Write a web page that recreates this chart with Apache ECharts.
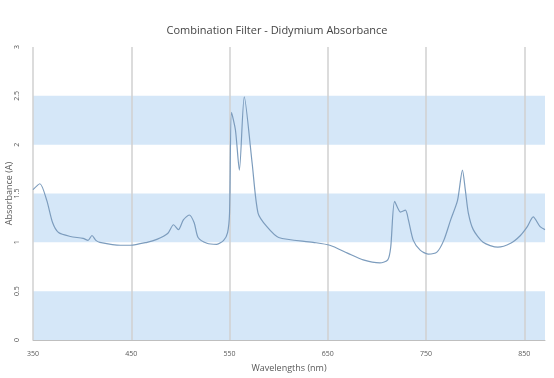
<!DOCTYPE html>
<html>
<head>
<meta charset="utf-8">
<script src="https://cdn.jsdelivr.net/npm/echarts@6/dist/echarts.min.js"></script>
<style>
  html, body { margin: 0; padding: 0; background: #fff; }
  #chart { width: 554px; height: 378px; }
</style>
</head>
<body>
<div id="chart"></div>
<script>
// wavelength (nm) and absorbance
const wavelengths = [350, 357, 364, 370, 376, 388, 401, 406, 410, 414, 418, 439, 449, 466, 476, 487, 493, 498, 503, 509, 514, 518, 527, 537, 544, 548, 550, 552, 556, 560, 565, 573, 579, 588, 600, 635, 652, 670, 686, 703, 711, 714, 718, 724, 729, 732, 737, 744, 752, 761, 768, 775, 782, 787, 790, 793, 798, 808, 823, 836, 846, 853, 859, 866, 871];
const absorbance = [1.54, 1.6, 1.43, 1.2, 1.1, 1.06, 1.04, 1.02, 1.07, 1.02, 1.0, 0.97, 0.97, 1.0, 1.03, 1.09, 1.18, 1.13, 1.23, 1.28, 1.2, 1.05, 0.99, 0.98, 1.02, 1.1, 1.3, 2.33, 2.15, 1.74, 2.49, 1.81, 1.3, 1.16, 1.05, 1.0, 0.97, 0.89, 0.82, 0.79, 0.82, 0.95, 1.42, 1.31, 1.33, 1.23, 1.02, 0.92, 0.88, 0.9, 1.02, 1.23, 1.43, 1.74, 1.53, 1.3, 1.13, 1.0, 0.95, 0.99, 1.07, 1.16, 1.26, 1.16, 1.13];

const chart = echarts.init(document.getElementById('chart'));
const txt = '#595959';

let option = {
  animation: false,
  title: {
    text: 'Combination Filter - Didymium Absorbance',
    left: 'center',
    top: 20,
    textStyle: { fontFamily: 'Open Sans', fontSize: 11, fontWeight: 'normal', color: '#444' }
  },
  grid: { left: 33, right: 9, top: 47, bottom: 38, containLabel: false, outerBoundsMode: 'none' },
  xAxis: {
    type: 'value',
    min: 350,
    max: 871,
    interval: 100,
    name: 'Wavelengths (nm)',
    nameLocation: 'middle',
    nameGap: 24,
    nameMoveOverlap: false,
    nameTextStyle: { fontFamily: 'Open Sans', fontSize: 9, color: txt },
    axisLine: { lineStyle: { color: '#bfbfbf' } },
    axisTick: { show: false },
    axisLabel: { fontFamily: 'Open Sans', fontSize: 7, color: txt, margin: 10, showMaxLabel: false },
    splitLine: { show: true, showMaxLine: false, lineStyle: { color: '#d0d0d0', width: 1.5 } }
  },
  yAxis: {
    type: 'value',
    min: 0,
    max: 3,
    interval: 0.5,
    name: 'Absorbance (A)',
    nameLocation: 'middle',
    nameGap: 19,
    nameMoveOverlap: false,
    nameTextStyle: { fontFamily: 'Open Sans', fontSize: 9, color: txt },
    axisLine: { show: false },
    axisTick: { show: false },
    axisLabel: { fontFamily: 'Open Sans', fontSize: 7, color: txt, margin: 13, rotate: 90 },
    splitLine: { show: false },
    splitArea: { show: true, areaStyle: { color: ['#d5e7f8', 'rgba(255,255,255,0)'] } }
  },
  series: [{
    type: 'line',
    smooth: 0.25,
    symbol: 'none',
    lineStyle: { color: '#7c9cbd', width: 1.2 },
    data: wavelengths.map((w, i) => [w, absorbance[i]])
  }]
};

chart.setOption(option);
</script>
</body>
</html>
